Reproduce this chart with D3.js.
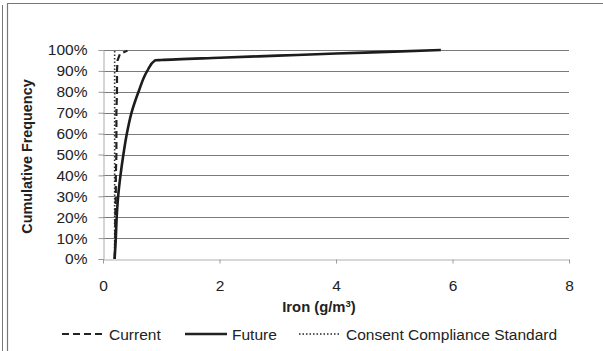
<!DOCTYPE html>
<html>
<head>
<meta charset="utf-8">
<script src="https://cdn.jsdelivr.net/npm/d3@7"></script>
<style>
  html, body { margin: 0; padding: 0; background: #fff; }
  svg { display: block; font-family: "Liberation Sans", Arial, sans-serif; }
</style>
</head>
<body>
<svg id="chart" width="603" height="351"></svg>
<script>
// Cumulative frequency (%) against iron concentration (g/m³)
const currentIron = [0.20, 0.21, 0.21, 0.22, 0.22, 0.23, 0.23, 0.23, 0.24, 0.24, 0.25, 0.29, 0.42];
const currentFreq = [0, 10, 20, 30, 40, 50, 60, 70, 80, 90, 95, 98, 99.7];

const futureIron = [0.20, 0.22, 0.235, 0.26, 0.30, 0.35, 0.41, 0.49, 0.61, 0.76, 0.89, 1.0, 2.0, 3.0, 4.0, 5.0, 5.8];
const futureFreq = [0, 10, 20, 30, 40, 50, 60, 70, 80, 90, 95, 95.2, 96.3, 97.3, 98.3, 99.2, 100];

const standardIron = [0.2, 0.2];
const standardFreq = [0, 100];

const xTicks = [0, 2, 4, 6, 8];
const yTicks = [0, 10, 20, 30, 40, 50, 60, 70, 80, 90, 100];

const seriesNames = ["Current", "Future", "Consent Compliance Standard"];

const svg = d3.select("#chart");
const plotLeft = 103, plotRight = 569, plotTop = 50, plotBottom = 259;
const labelSize = 15.5;

const x = d3.scaleLinear().domain([0, 8]).range([plotLeft, plotRight]);
const y = d3.scaleLinear().domain([0, 100]).range([plotBottom, plotTop]);

// outer frame
svg.append("line").attr("x1", 2.5).attr("x2", 2.5).attr("y1", 5).attr("y2", 351)
  .attr("stroke", "#777").attr("stroke-width", 1);
svg.append("path").attr("d", "M7.5,351V3.5H603")
  .attr("fill", "none").attr("stroke", "#777").attr("stroke-width", 1.2);

// horizontal gridlines
svg.append("g").selectAll("line").data(yTicks.filter(d => d > 0)).join("line")
  .attr("x1", plotLeft).attr("x2", plotRight)
  .attr("y1", d => Math.round(y(d)) + 0.5).attr("y2", d => Math.round(y(d)) + 0.5)
  .attr("stroke", "#7a7a7a").attr("stroke-width", 1.1);

// y axis
const yAxis = svg.append("g").attr("transform", `translate(${plotLeft + 0.5},0)`)
  .call(d3.axisLeft(y).tickValues(yTicks).tickFormat(d => d + "%").tickSize(5).tickPadding(11));
yAxis.select(".domain").attr("stroke", "#aaa");
yAxis.selectAll(".tick line").attr("stroke", "#999");
yAxis.selectAll("text").attr("font-size", labelSize).attr("fill", "#222")
  .attr("font-family", "Liberation Sans, Arial, sans-serif");

// x axis
const xAxis = svg.append("g").attr("transform", `translate(0,${plotBottom + 0.5})`)
  .call(d3.axisBottom(x).tickValues(xTicks).tickSize(4).tickPadding(16).tickSizeOuter(0));
xAxis.select(".domain").attr("stroke", "#b0b0b0");
xAxis.selectAll(".tick line").attr("stroke", "#999");
xAxis.selectAll("text").attr("font-size", labelSize).attr("fill", "#222")
  .attr("font-family", "Liberation Sans, Arial, sans-serif");

// axis titles
svg.append("text").attr("transform", `translate(32,${(plotTop + plotBottom) / 2 + 2}) rotate(-90)`)
  .attr("text-anchor", "middle").attr("font-weight", "bold").attr("font-size", 14.4)
  .attr("fill", "#222").text("Cumulative Frequency");

const xTitle = svg.append("text").attr("x", (plotLeft + plotRight) / 2 - 17).attr("y", 312)
  .attr("text-anchor", "middle").attr("font-weight", "bold").attr("font-size", 14.8)
  .attr("fill", "#222");
xTitle.append("tspan").text("Iron (g/m");
xTitle.append("tspan").attr("font-size", 9.5).attr("dy", -5).text("3");
xTitle.append("tspan").attr("dy", 5).text(")");

// series
const styles = {
  "Current": { dash: "7,4", width: 2.2 },
  "Future": { dash: null, width: 2.6 },
  "Consent Compliance Standard": { dash: "1.5,2", width: 1.6 }
};

svg.append("path").datum(d3.zip(standardIron, standardFreq))
  .attr("d", d3.line().x(d => x(d[0])).y(d => y(d[1])))
  .attr("fill", "none").attr("stroke", "#333")
  .attr("stroke-width", styles["Consent Compliance Standard"].width)
  .attr("stroke-dasharray", styles["Consent Compliance Standard"].dash);

svg.append("path").datum(d3.zip(currentIron, currentFreq))
  .attr("d", d3.line().x(d => x(d[0])).y(d => y(d[1])))
  .attr("fill", "none").attr("stroke", "#222")
  .attr("stroke-width", styles["Current"].width)
  .attr("stroke-dasharray", styles["Current"].dash);

svg.append("path").datum(d3.zip(futureIron, futureFreq))
  .attr("d", d3.line().x(d => x(d[0])).y(d => y(d[1])).curve(d3.curveMonotoneY))
  .attr("fill", "none").attr("stroke", "#1c1c1c")
  .attr("stroke-width", styles["Future"].width)
  .attr("stroke-linejoin", "round");

// legend
const legendItems = [
  { name: seriesNames[0], x1: 62, x2: 105, tx: 109 },
  { name: seriesNames[1], x1: 185, x2: 227, tx: 232 },
  { name: seriesNames[2], x1: 299, x2: 340, tx: 346 }
];
const lg = svg.append("g");
legendItems.forEach(it => {
  const s = styles[it.name];
  lg.append("line").attr("x1", it.x1).attr("x2", it.x2).attr("y1", 334).attr("y2", 334)
    .attr("stroke", "#222").attr("stroke-width", s.width)
    .attr("stroke-dasharray", s.dash);
  lg.append("text").attr("x", it.tx).attr("y", 339.5).attr("font-size", labelSize)
    .attr("fill", "#222").text(it.name);
});
</script>
</body>
</html>
